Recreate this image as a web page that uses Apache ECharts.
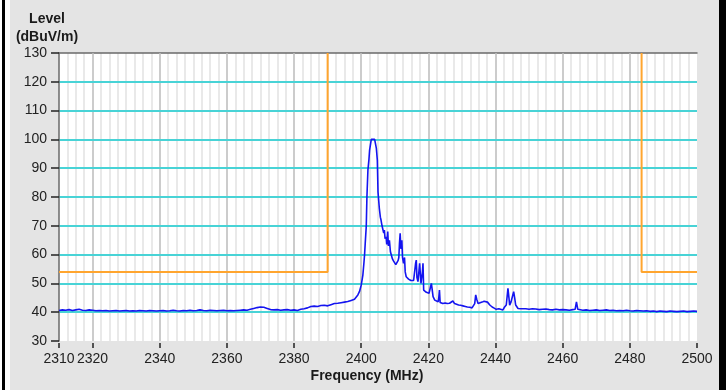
<!DOCTYPE html>
<html><head><meta charset="utf-8">
<script src="https://cdn.jsdelivr.net/npm/echarts@6/dist/echarts.min.js"></script>
<style>html,body{margin:0;padding:0;background:#fff}#c{width:726px;height:390px}</style>
</head><body><div id="c"></div>
<script>
// ---- data ----
const freq = [
2310,2311,2312,2313,2314,2315,2316,2317,2318,2319,2320,2321,2322,2323,2324,2325,2326,2327,2328,2329,
2330,2331,2332,2333,2334,2335,2336,2337,2338,2339,2340,2341,2342,2343,2344,2345,2346,2347,2348,2349,
2350,2351,2352,2353,2354,2355,2356,2357,2358,2359,2360,2361,2362,2363,2364,2365,2366,2367,2368,2369,
2370,2371,2372,2373,2374,2375,2376,2377,2378,2379,2380,2381,2382,2383,2384,2385,2386,2387,2388,2389,
2390,2391,2392,2393,2394,2395,2396,2397,2398,2398.5,2399,2399.5,2400,2400.3,2400.5,2400.8,2401.0,2401.2,2401.5,2401.7,
2402.0,2402.3,2402.5,2402.8,2403.0,2403.5,2404.0,2404.3,2404.5,2404.8,2405.0,2405.4,2405.7,2405.9,2406.2,2406.4,2406.7,2406.9,2407.1,2407.4,
2407.6,2407.9,2408.1,2408.4,2408.7,2408.9,2409.3,2409.6,2409.9,2410.3,2410.7,2411.0,2411.2,2411.4,2411.6,2411.8,2412.1,2412.3,2412.6,2412.9,
2413.1,2413.4,2413.8,2414.1,2414.4,2414.8,2415.2,2415.6,2415.9,2416.2,2416.4,2416.6,2416.9,2417.1,2417.4,2417.6,2417.8,2418.0,2418.2,2418.4,
2418.6,2419.0,2419.4,2419.8,2420.2,2420.6,2420.9,2421.1,2421.4,2421.9,2422.4,2422.9,2423.1,2423.3,2423.5,2424.0,2424.3,2425.0,2425.6,2426.3,
2426.8,2427.3,2427.8,2428.3,2429.0,2429.6,2430.3,2431.0,2431.6,2432.3,2433.0,2433.5,2433.8,2434.1,2434.4,2434.8,2435.3,2436.0,2436.6,2437.1,
2437.6,2438.3,2439.0,2439.6,2440.2,2441.0,2441.5,2442.2,2442.7,2443.2,2443.7,2444.0,2444.2,2444.6,2445.0,2445.4,2445.7,2446.0,2446.7,2447.5,
2448,2449,2450,2451,2452,2453,2454,2455,2456,2457,2458,2459,2460,2461,2462,2463,2463.7,2464.1,2464.5,2465,
2466,2467,2468,2469,2470,2471,2472,2473,2474,2475,2476,2477,2478,2479,2480,2481,2482,2483,2484,2485,
2486,2487,2488,2489,2490,2491,2492,2493,2494,2495,2496,2497,2498,2499,2500
];
const level = [
40.6,40.8,40.7,40.9,40.6,40.8,41.0,40.7,40.6,40.8,40.7,40.5,40.6,40.5,40.6,40.4,40.5,40.6,40.4,40.5,
40.6,40.4,40.5,40.4,40.6,40.5,40.4,40.6,40.5,40.4,40.5,40.6,40.4,40.5,40.7,40.5,40.4,40.6,40.5,40.7,
40.5,40.6,40.8,40.6,40.5,40.7,40.6,40.5,40.6,40.7,40.5,40.6,40.5,40.6,40.7,40.8,40.7,41.0,41.3,41.6,
41.8,41.7,41.3,40.9,40.8,40.9,40.7,40.8,40.9,40.7,40.8,40.6,41.0,41.2,41.5,42.0,42.1,42.0,42.3,42.4,
42.2,42.6,43.0,43.1,43.3,43.5,43.7,44.1,44.5,45.0,46.0,47.2,49.4,51.5,53.0,57.0,60.0,64.0,69.7,80.0,
89.4,93.0,96.3,98.5,100.0,100.0,100.0,99.5,97.0,92.8,81.8,76.0,73.0,72.0,70.0,70.3,67.5,68.5,65.5,66.2,
63.5,68.0,63.0,65.0,61.0,60.4,58.5,57.8,57.5,56.5,57.0,58.0,59.0,64.0,67.4,62.0,65.0,59.0,57.0,59.0,
54.0,52.3,51.8,51.5,51.2,51.0,50.8,51.0,51.0,57.0,58.1,52.0,50.6,53.0,57.0,57.2,50.0,52.0,53.5,57.0,
47.7,47.2,46.9,46.8,46.6,47.0,50.0,49.5,45.4,44.2,43.8,43.6,45.0,47.7,43.4,43.2,43.0,43.2,43.0,43.1,
43.3,43.9,43.0,42.7,42.5,42.4,42.2,42.0,41.8,41.7,41.5,41.6,43.0,46.0,44.5,43.0,43.2,43.5,43.8,44.0,
43.5,42.5,41.8,41.4,41.0,41.2,41.0,40.8,41.8,42.5,48.3,45.0,42.4,43.5,44.0,47.1,45.0,42.5,41.3,41.2,
41.1,41.2,41.0,41.2,41.1,40.9,41.0,41.1,40.9,40.8,41.0,40.8,40.9,40.8,40.7,40.9,41.0,43.6,41.0,40.8,
40.7,40.8,40.6,40.7,40.8,40.6,40.7,40.8,40.6,40.7,40.5,40.6,40.5,40.7,40.5,40.4,40.6,40.5,40.4,40.5,
40.3,40.4,40.2,40.4,40.3,40.2,40.4,40.3,40.2,40.3,40.4,40.2,40.3,40.4,40.3
];
const limitLeftX = [2310, 2390, 2390];
const limitLeftY = [54, 54, 130];
const limitRightX = [2483.5, 2483.5, 2500];
const limitRightY = [130, 54, 54];
const xTickLabels = [2310,2320,2340,2360,2380,2400,2420,2440,2460,2480,2500];
const xMajorLines = [2320,2340,2360,2380,2400,2420,2440,2460,2480];
const yMin = 30, yMax = 130, yStep = 10;
const xMin = 2310, xMax = 2500, xGridStep = 2.5;

// ---- chart ----
const zip = (a, b) => a.map((v, i) => [v, b[i]]);
const font = '"Liberation Sans", Arial, sans-serif';
const chart = echarts.init(document.getElementById('c'), null, {renderer: 'canvas'});
chart.setOption({
  animation: false,
  backgroundColor: '#ffffff',
  graphic: [
    {type: 'rect', z: -10, silent: true, shape: {x: 0, y: 0, width: 726, height: 390}, style: {fill: '#e4e4e4'}},
    {type: 'rect', z: -9, silent: true, shape: {x: 0, y: 0, width: 10, height: 390}, style: {fill: '#ffffff'}},
    {type: 'rect', z: -8, silent: true, shape: {x: 2, y: 0, width: 3, height: 390}, style: {fill: '#000000'}},
    {type: 'rect', z: -8, silent: true, shape: {x: 719, y: 0, width: 7, height: 390}, style: {fill: '#000000'}},
    {type: 'rect', z: -7, silent: true, shape: {x: 59, y: 53, width: 638, height: 288}, style: {fill: '#ffffff'}},
    {type: 'text', silent: true, x: 47, y: 12, style: {text: 'Level', font: 'bold 14px ' + font, fill: '#1a1a1a', textAlign: 'center'}},
    {type: 'text', silent: true, x: 47, y: 30, style: {text: '(dBuV/m)', font: 'bold 14px ' + font, fill: '#1a1a1a', textAlign: 'center'}},
    {type: 'text', silent: true, x: 367, y: 369, style: {text: 'Frequency (MHz)', font: 'bold 14px ' + font, fill: '#1a1a1a', textAlign: 'center'}}
  ],
  grid: {left: 59, right: 29, top: 53, bottom: 49, containLabel: false},
  xAxis: [
    {
      type: 'value', min: xMin, max: xMax, position: 'bottom', offset: 2,
      axisLine: {show: false},
      axisTick: {show: true, customValues: xTickLabels, length: 5, lineStyle: {color: '#222', width: 1.5}},
      axisLabel: {show: true, customValues: xTickLabels, showMinLabel: true, showMaxLabel: true, hideOverlap: false,
        margin: 9, fontSize: 14, fontFamily: font, color: '#222', formatter: v => String(v)},
      splitLine: {show: false}
    },
    {
      type: 'value', min: xMin, max: xMax, interval: xGridStep, position: 'top', z: 0,
      axisLine: {show: true, lineStyle: {color: '#6a6a6a', width: 1.5}},
      axisTick: {show: false}, axisLabel: {show: false},
      splitLine: {show: true, showMinLine: false, showMaxLine: false,
        lineStyle: {type: 'solid', width: 1.5, color: '#e2e2e2'}}
    }
  ],
  yAxis: {
    type: 'value', min: yMin, max: yMax, interval: yStep, z: 2,
    axisLine: {show: true, lineStyle: {color: '#6a6a6a', width: 1.5}},
    axisTick: {show: true, length: 8, lineStyle: {color: '#222', width: 1.5}},
    axisLabel: {margin: 12, fontSize: 14, fontFamily: font, color: '#222'},
    splitLine: {show: true, showMinLine: false, showMaxLine: false, lineStyle: {type: 'solid', color: '#48d3d6', width: 2}}
  },
  series: [
    {type: 'line', data: zip(limitLeftX, limitLeftY), showSymbol: false, lineStyle: {color: '#ffa52e', width: 2}, z: 3},
    {type: 'line', data: zip(limitRightX, limitRightY), showSymbol: false, lineStyle: {color: '#ffa52e', width: 2}, z: 3},
    {type: 'line', data: zip(freq, level), showSymbol: false, lineStyle: {color: '#1414f0', width: 1.6}, z: 4,
      markLine: {silent: true, symbol: 'none', label: {show: false}, z: 1,
        lineStyle: {type: 'solid', color: '#c2c2c2', width: 1.5},
        data: xMajorLines.map(v => ({xAxis: v}))}}
  ]
});
</script></body></html>
